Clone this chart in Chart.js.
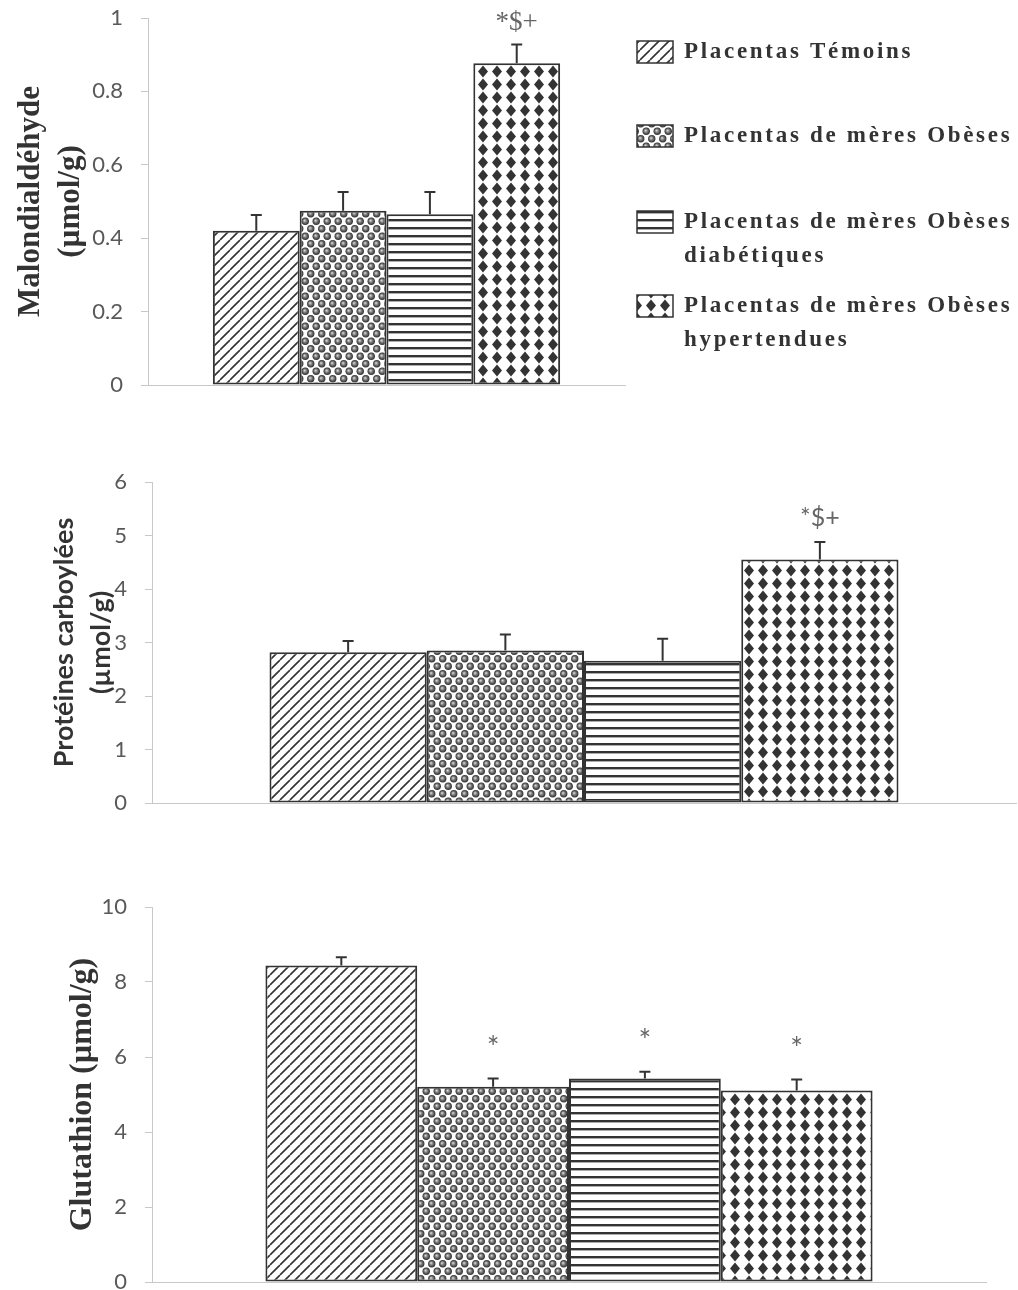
<!DOCTYPE html>
<html>
<head>
<meta charset="utf-8">
<script src="https://cdn.jsdelivr.net/npm/chart.js@4/dist/chart.umd.min.js"></script>
<style>
    body { margin: 0; background: #fff; width: 1018px; height: 1290px; position: relative; overflow: hidden; }
    canvas { position: absolute; left: 0; }
</style>
</head>
<body>
<canvas id="mdaChart" width="1018" height="410" style="top:0px"></canvas>
<canvas id="carbChart" width="1018" height="360" style="top:460px"></canvas>
<canvas id="gshChart" width="1018" height="405" style="top:885px"></canvas>
<script>
// groups (legend lines)
const groupLabels = [
    ['Placentas Témoins'],
    ['Placentas de mères Obèses'],
    ['Placentas de mères Obèses', 'diabétiques'],
    ['Placentas de mères Obèses', 'hypertendues']
];

// Malondialdéhyde
const mdaValues = [0.42, 0.475, 0.465, 0.877];
const mdaErrors = [0.043, 0.051, 0.061, 0.051];
const mdaMarks = ['', '', '', '*$+'];
const mdaTicks = { max: 1, step: 0.2 };

// Protéines carbonylées
const carbValues = [2.82, 2.85, 2.66, 4.55];
const carbErrors = [0.21, 0.30, 0.41, 0.33];
const carbMarks = ['', '', '', '*$+'];
const carbTicks = { max: 6, step: 1 };

// Glutathion
const gshValues = [8.44, 5.21, 5.43, 5.11];
const gshErrors = [0.22, 0.22, 0.18, 0.29];
const gshMarks = ['', '*', '*', '*'];
const gshTicks = { max: 10, step: 2 };

const SERIF = '"Liberation Serif", "Times New Roman", serif';
const SANS = 'Lato, "Open Sans", sans-serif';
const INK = '#333';

function makePattern(kind) {
    const c = document.createElement('canvas');
    const sizes = { hatch: [10, 10], spheres: [11, 15], stripes: [8, 8], diamonds: [14, 13] };
    const [w, h] = sizes[kind];
    c.width = w; c.height = h;
    const g = c.getContext('2d');
    g.fillStyle = '#fff';
    g.fillRect(0, 0, w, h);
    if (kind === 'hatch') {
        g.strokeStyle = INK;
        g.lineWidth = 1.6;
        g.beginPath();
        [-w, 0, w].forEach(o => { g.moveTo(o, h); g.lineTo(o + w, 0); });
        g.stroke();
    } else if (kind === 'spheres') {
        const centres = [[2.75, 3.75], [8.25, 11.25]];
        [-w, 0, w].forEach(dx => [-h, 0, h].forEach(dy => {
            centres.forEach(([cx, cy]) => {
                const x = cx + dx, y = cy + dy;
                const grad = g.createRadialGradient(x - 0.8, y - 0.8, 0.2, x, y, 3.8);
                grad.addColorStop(0, '#d8d8d8');
                grad.addColorStop(0.5, '#707070');
                grad.addColorStop(1, '#2a2a2a');
                g.fillStyle = grad;
                g.beginPath();
                g.arc(x, y, 3.7, 0, Math.PI * 2);
                g.fill();
            });
        }));
    } else if (kind === 'stripes') {
        g.fillStyle = INK;
        g.fillRect(0, 3, w, 2.4);
    } else if (kind === 'diamonds') {
        g.fillStyle = INK;
        g.beginPath();
        g.moveTo(w / 2, 0.5);
        g.lineTo(w / 2 + 5, h / 2);
        g.lineTo(w / 2, h - 0.5);
        g.lineTo(w / 2 - 5, h / 2);
        g.closePath();
        g.fill();
    }
    return g.createPattern(c, 'repeat');
}

const patterns = ['hatch', 'spheres', 'stripes', 'diamonds'].map(makePattern);

// upper error whiskers + significance marks
const errorBarsPlugin = {
    id: 'errorBars',
    afterDatasetsDraw(chart, args, opts) {
        const ctx = chart.ctx;
        const yScale = chart.scales.y;
        ctx.save();
        chart.data.datasets.forEach((ds, i) => {
            const bar = chart.getDatasetMeta(i).data[0];
            const v = ds.data[0];
            const yTop = yScale.getPixelForValue(v + opts.errors[i]);
            ctx.strokeStyle = INK;
            ctx.lineWidth = 2;
            ctx.beginPath();
            ctx.moveTo(bar.x, bar.y);
            ctx.lineTo(bar.x, yTop);
            ctx.moveTo(bar.x - 5.5, yTop);
            ctx.lineTo(bar.x + 5.5, yTop);
            ctx.stroke();
            if (opts.marks[i]) {
                ctx.fillStyle = '#666';
                ctx.font = opts.markFont;
                ctx.textAlign = 'center';
                ctx.textBaseline = 'middle';
                ctx.fillText(opts.marks[i], bar.x, yTop - opts.markOffset);
            }
        });
        ctx.restore();
    }
};

// legend drawn at the right of the first panel
const sideLegendPlugin = {
    id: 'sideLegend',
    afterDraw(chart, args, opts) {
        if (!opts.show) return;
        const ctx = chart.ctx;
        const rows = [52, 136, 222, 306];
        ctx.save();
        groupLabels.forEach((lines, i) => {
            const y = rows[i];
            ctx.fillStyle = patterns[i];
            ctx.fillRect(637, y - 11, 36, 22);
            ctx.strokeStyle = INK;
            ctx.lineWidth = 1.5;
            ctx.strokeRect(637, y - 11, 36, 22);
            ctx.fillStyle = INK;
            ctx.font = 'bold 23px ' + SERIF;
            ctx.letterSpacing = '2.7px';
            ctx.textAlign = 'left';
            ctx.textBaseline = 'middle';
            lines.forEach((t, k) => ctx.fillText(t, 684, y + k * 34));
        });
        ctx.restore();
    }
};

Chart.register(errorBarsPlugin, sideLegendPlugin);

function drawPanel(id, values, errors, marks, ticks, cfg) {
    const canvas = document.getElementById(id);
    const ctx = canvas.getContext('2d');
    return new Chart(ctx, {
        type: 'bar',
        data: {
            labels: [''],
            datasets: values.map((v, i) => ({
                label: groupLabels[i].join(' '),
                data: [v],
                backgroundColor: patterns[i],
                borderColor: INK,
                borderWidth: 2,
                borderSkipped: false,
                categoryPercentage: 0.728,
                barPercentage: 1.0
            }))
        },
        options: {
            responsive: false,
            animation: false,
            devicePixelRatio: 1,
            layout: { padding: cfg.padding },
            plugins: {
                legend: { display: false },
                tooltip: { enabled: false },
                errorBars: { errors: errors, marks: marks, markOffset: cfg.markOffset, markFont: cfg.markFont },
                sideLegend: { show: !!cfg.legend }
            },
            scales: {
                x: {
                    grid: { display: false },
                    ticks: { display: false },
                    border: { color: '#c8c8c8', width: 1 },
                    afterFit: s => { s.height = 0; }
                },
                y: {
                    min: 0,
                    max: ticks.max,
                    ticks: {
                        stepSize: ticks.step,
                        color: '#595959',
                        padding: 18,
                        font: { family: SANS, size: 22 },
                        callback: v => String(Number(v.toFixed(2)))
                    },
                    grid: { display: true, drawOnChartArea: false, drawTicks: true, tickLength: 7, color: '#c8c8c8' },
                    border: { color: '#c8c8c8', width: 1 },
                    title: {
                        display: true,
                        text: cfg.title,
                        color: INK,
                        font: cfg.titleFont,
                        padding: { top: cfg.titlePad, bottom: 0 }
                    },
                    afterFit: s => {
                        s.width = cfg.axisWidth;
                        // let layout.padding alone place the plot area
                        s.paddingTop = 0;
                        s.paddingBottom = 0;
                    }
                }
            }
        }
    });
}

drawPanel('mdaChart', mdaValues, mdaErrors, mdaMarks, mdaTicks, {
    padding: { top: 18, bottom: 25, left: 0, right: 393 },
    axisWidth: 148,
    title: ['Malondialdéhyde', '(µmol/g)'],
    titleFont: { family: SERIF, size: 31, weight: 'bold', lineHeight: 1.28 },
    titlePad: 11,
    markOffset: 22,
    markFont: '27px ' + SERIF,
    legend: true
});

drawPanel('carbChart', carbValues, carbErrors, carbMarks, carbTicks, {
    padding: { top: 22, bottom: 17, left: 0, right: 2 },
    axisWidth: 152,
    title: ['Protéines carboylées', '(µmol/g)'],
    titleFont: { family: SANS, size: 27, weight: 'bold', lineHeight: 1.37 },
    titlePad: 46,
    markOffset: 24,
    markFont: '25px ' + SANS
});

drawPanel('gshChart', gshValues, gshErrors, gshMarks, gshTicks, {
    padding: { top: 22, bottom: 8, left: 0, right: 32 },
    axisWidth: 152,
    title: 'Glutathion (µmol/g)',
    titleFont: { family: SERIF, size: 32, weight: 'bold', lineHeight: 1.25 },
    titlePad: 63,
    markOffset: 30,
    markFont: '30px ' + SANS
});
</script>
</body>
</html>
